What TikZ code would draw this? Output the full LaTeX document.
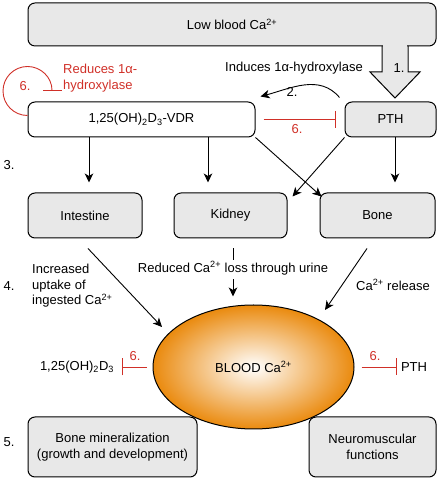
\documentclass[tikz,border=0pt]{standalone}
\usepackage{fontspec}
\setmainfont{Liberation Sans}
\usepackage{tikz}
\usetikzlibrary{arrows.meta}
\usetikzlibrary{calc}
\usetikzlibrary{shapes.geometric}
\definecolor{boxgray}{gray}{.91}
\definecolor{inhred}{RGB}{208,48,40}
\definecolor{bloodorange}{RGB}{234,138,14}
\def\ca{Ca\textsuperscript{2+}}

\begin{document}
\begin{tikzpicture}[ x=1pt, y=1pt,
      every node/.style={color=black, font=\fontsize{13}{15.5}\selectfont},
      box/.style={draw, line width=1pt, rounded corners=7pt, fill=boxgray, inner sep=0pt},
      axis/.style={line width=0.9pt, -{Stealth[length=9pt,width=8.5pt,inset=2.5pt]}},
      plain line/.style={line width=0.9pt},
      inhibit/.style={line width=0.9pt, inhred, -{Bar[width=17pt,line width=1pt]}},
      redtext/.style={color=inhred},
      step label/.style={anchor=west}
      ]
      \useasboundingbox (0,0) rectangle (438,478);

      % boxes
      \node[box, minimum width=408, minimum height=43] (low) at (232,453.5) {Low blood \ca};
      \node[box, fill=white, minimum width=227, minimum height=35] (vdr) at (141.5,358.5) {1,25(OH)\textsubscript{2}D\textsubscript{3}-VDR};
      \node[box, minimum width=91, minimum height=35] (pth) at (390.5,358.5) {PTH};
      \node[box, minimum width=114, minimum height=45] (intestine) at (85,262.5) {Intestine};
      \node[box, minimum width=113, minimum height=45] (kidney) at (230.5,262.5) {Kidney};
      \node[box, minimum width=115, minimum height=45] (bone) at (377.5,262.5) {Bone};
      \node[box, minimum width=169, minimum height=60, align=center] (bonemin) at (112.5,31) {Bone mineralization\\(growth and development)};
      \node[box, minimum width=127, minimum height=60, align=center] (neuro) at (372.5,31) {Neuromuscular\\functions};

      % blood
      \node[ellipse, draw, line width=1pt, inner color=white, outer color=bloodorange,
            minimum width=201, minimum height=124] (blood) at (253.5,111) {BLOOD \ca};

      % big arrow 1.
      \coordinate (shaftL) at (382,432);
      \coordinate (shaftR) at (408,432);
      \coordinate (tip) at (395,380);
      \fill[boxgray] ($(shaftL)+(0.6,2)$) rectangle (407.4,406);
      \fill[boxgray] (370,406) -- (tip) -- (420,406) -- cycle;
      \draw[line width=1pt, line join=miter] (shaftL) -- (382,406) -- (370,406) -- (tip) -- (420,406) -- (408,406) -- (shaftR);
      \node (one) at (399,410) {1.};
      \node (induce) at (294,410) {Induces 1α-hydroxylase};

      % 2.
      \draw[axis] ([xshift=-5pt,yshift=4pt]pth.north west) to[out=130,in=15] ([xshift=5pt,yshift=5pt]vdr.north east);
      \node (two) at (292,386) {2.};

      % 6. loops and bars
      \draw[inhibit, -{Bar[width=19pt,line width=1pt]}] ([yshift=4pt]vdr.west) arc[start angle=270, end angle=0, radius=24.5];
      \node[redtext] (sixA) at (25,392) {6.};
      \node[redtext, align=left, anchor=west, inner sep=0pt] (reduce) at (63,400) {Reduces 1α-\\hydroxylase};
      \draw[inhibit] ([xshift=8pt]vdr.east) -- ([xshift=-9pt]pth.west);
      \node[redtext] (sixB) at (297,349) {6.};

      % 3.
      \node[step label] (three) at (0,313) {3.};
      \coordinate (pthdown) at ($(pth.south)+(4.5,0)$);
      \draw[axis] ([xshift=4pt]intestine.north |- vdr.south) -- ([xshift=4pt,yshift=10pt]intestine.north);
      \draw[axis] ([xshift=-22.5pt]kidney.north |- vdr.south) -- ([xshift=-22.5pt,yshift=10pt]kidney.north);
      \draw[axis] (pthdown) -- ($(pthdown |- bone.north)+(0,10)$);
      \draw[axis] (vdr.south east) -- ([xshift=2pt,yshift=-4pt]bone.north west);
      \draw[axis] (pth.south west) -- ([xshift=5pt,yshift=-4pt]kidney.north east);

      % 4.
      \node[step label] (four) at (0,192) {4.};
      \node[align=left, anchor=west, inner sep=0pt] (uptake) at (32,192) {Increased\\uptake of\\ingested \ca};
      \draw[axis] ([xshift=3pt,yshift=-10pt]intestine.south) -- (162,151);
      \node (urine) at (233,210) {Reduced \ca{} loss through urine};
      \coordinate (kidneyout) at ($(kidney.south)+(2.5,-10)$);
      \draw[plain line] (kidneyout) -- ++(0,-12);
      \draw[axis] ($(urine.south -| kidneyout)+(0,-1)$) -- ($(blood.north -| kidneyout)+(0,8)$);
      \node (release) at (393,193) {\ca{} release};
      \draw[axis] ([xshift=-10.5pt,yshift=-10pt]bone.south) -- (325,168);

      % feedback on blood
      \node (vdrblood) at (77,111) {1,25(OH)\textsubscript{2}D\textsubscript{3}};
      \draw[inhibit] ([xshift=-6pt]blood.west) -- ([xshift=4pt]vdrblood.east);
      \node[redtext] (sixC) at (135,122) {6.};
      \node (pthblood) at (414,111) {PTH};
      \draw[inhibit] ([xshift=7pt]blood.east) -- (pthblood.west);
      \node[redtext] (sixD) at (375,122) {6.};

      % 5.
      \node[step label] (five) at (0,36) {5.};
    \end{tikzpicture}
\end{document}
